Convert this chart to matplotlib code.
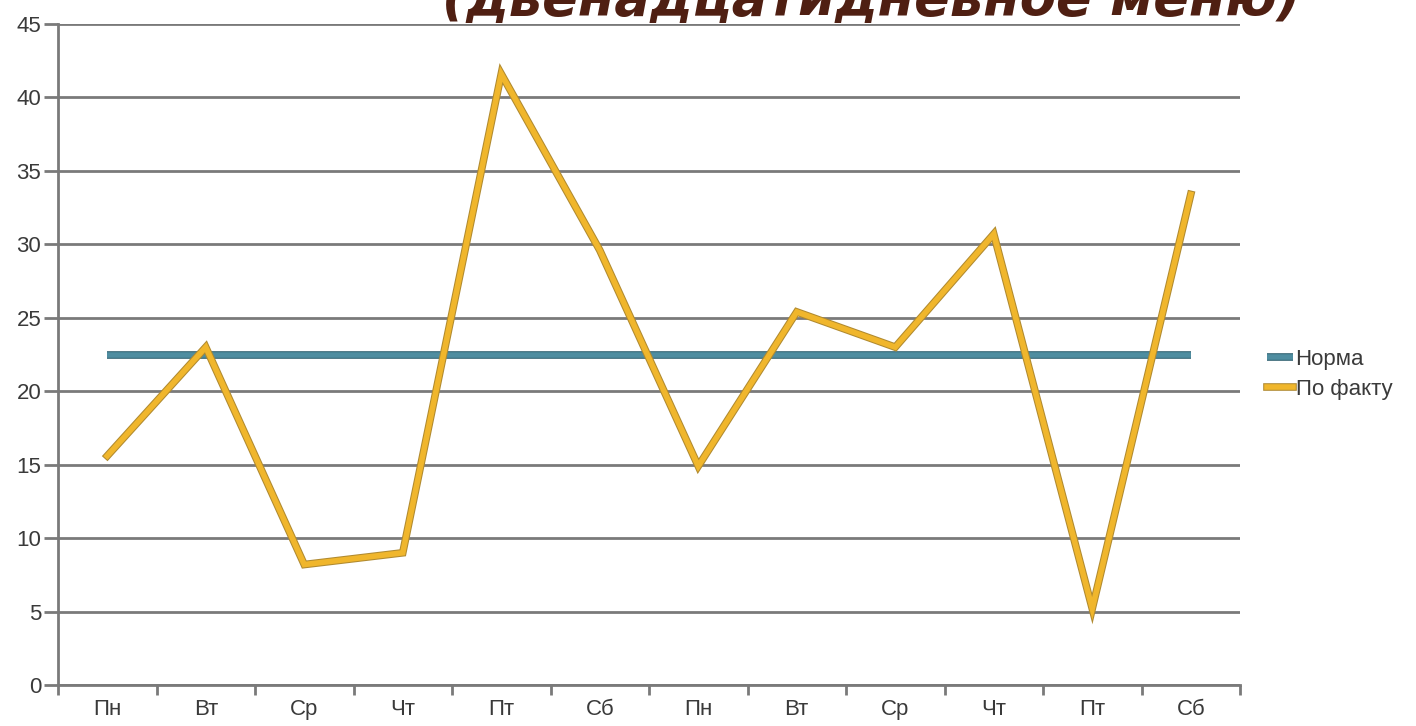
import matplotlib.pyplot as plt
import matplotlib.patheffects as pe
from matplotlib.ticker import MultipleLocator

days = ["Пн", "Вт", "Ср", "Чт", "Пт", "Сб", "Пн", "Вт", "Ср", "Чт", "Пт", "Сб"]
norm = [22.5] * 12
actual = [15.6, 23.0, 8.2, 9.0, 41.6, 29.6, 14.9, 25.4, 23.0, 30.7, 5.2, 33.4]

plt.rcParams["font.family"] = ["Liberation Sans", "DejaVu Sans"]

fig = plt.figure(figsize=(14.16, 7.26), dpi=100)
ax = fig.add_axes([58 / 1416, 41 / 726, 1182 / 1416, 661 / 726])

x = list(range(len(days)))
ax.plot(x, norm, color="#4f8da0", lw=4, solid_capstyle="butt", label="Норма",
        path_effects=[pe.Stroke(linewidth=5.5, foreground="#2f6070"), pe.Normal()], zorder=3)
ax.plot(x, actual, color="#f0b62c", lw=4, solid_joinstyle="miter", label="По факту",
        path_effects=[pe.Stroke(linewidth=5.5, foreground="#b08a30"), pe.Normal()], zorder=4)

ax.set_xlim(-0.5, 11.5)
ax.set_ylim(0, 45)
ax.yaxis.set_major_locator(MultipleLocator(5))
ax.grid(axis="y", color="#7a7a7a", lw=2)
ax.set_axisbelow(True)

ax.set_xticks(x)
ax.set_xticklabels(days)
ax.set_xticks([i - 0.5 for i in range(13)], minor=True)
ax.tick_params(axis="x", which="major", length=0, pad=10, labelsize=16, labelcolor="#3a3a3a")
ax.tick_params(axis="x", which="minor", length=7, width=2, color="#7a7a7a")
ax.tick_params(axis="y", length=10, width=2, color="#7a7a7a", pad=2, labelsize=16, labelcolor="#3a3a3a")

for side in ["top", "right"]:
    ax.spines[side].set_visible(False)
for side in ["left", "bottom"]:
    ax.spines[side].set_color("#7a7a7a")
    ax.spines[side].set_linewidth(2)

leg = ax.legend(loc="center left", bbox_to_anchor=(1.015, 0.47), frameon=False, fontsize=16,
                handlelength=1.2, handletextpad=0.1, labelspacing=0.4, borderaxespad=0)
for t in leg.get_texts():
    t.set_color("#3a3a3a")

fig.text(871 / 1416, 1 - 15 / 726, "(двенадцатидневное меню)", ha="center", va="baseline",
         fontsize=38, fontweight="bold", style="italic", color="#4f1f12", family="DejaVu Sans")

fig.savefig("out.png", dpi=100)
